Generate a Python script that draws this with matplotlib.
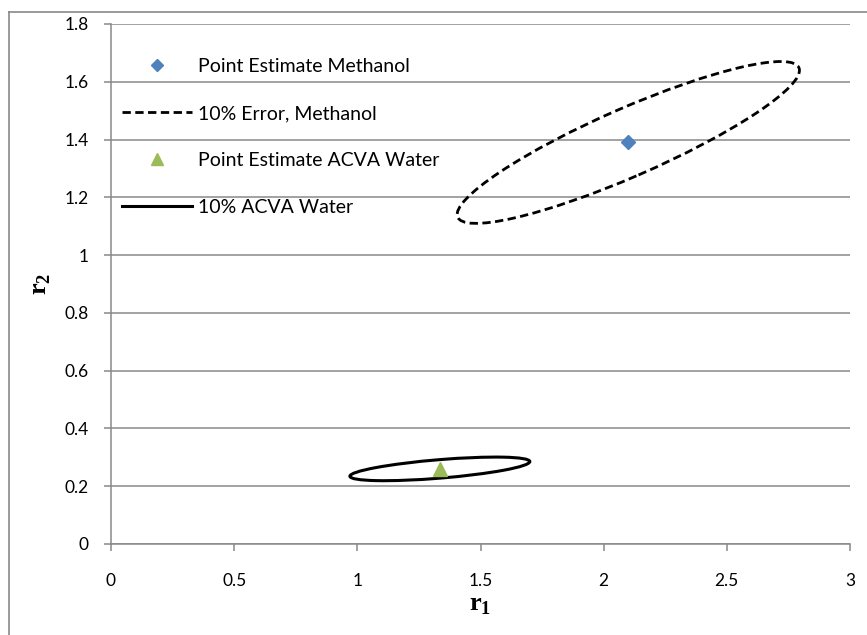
import matplotlib
matplotlib.use("Agg")
import matplotlib.pyplot as plt
from matplotlib.patches import Ellipse
from matplotlib.lines import Line2D

plt.rcParams['font.family'] = ['Lato', 'DejaVu Sans']
plt.rcParams['mathtext.fontset'] = 'custom'
plt.rcParams['mathtext.rm'] = 'Liberation Serif:bold'

# point estimates (r1, r2)
meoh_point = (2.10, 1.392)
water_point = (1.335, 0.258)

# 10% error regions:
# centre, full width, full height, tilt (deg) in data units
meoh_center = (2.10, 1.39)
meoh_width, meoh_height, meoh_angle = 1.479, 0.240, 20.3
water_center = (1.335, 0.260)
water_width, water_height, water_angle = 0.732, 0.064, 4.0

labels = ["Point Estimate Methanol", "10% Error, Methanol",
          "Point Estimate ACVA Water", "10% ACVA Water"]
xticks = [0, 0.5, 1, 1.5, 2, 2.5, 3]
yticks = [0, 0.2, 0.4, 0.6, 0.8, 1, 1.2, 1.4, 1.6, 1.8]

blue = "#4F81BD"
green = "#9BBB59"
grey = "#898989"

fig = plt.figure(figsize=(8.67, 6.35), dpi=100)
ax = fig.add_axes([111 / 867, 1 - 544 / 635, (850 - 111) / 867, (544 - 24) / 635])

# outer chart border (only top and left visible)
fig.add_artist(Line2D([9 / 867, 9 / 867], [0, 1 - 12 / 635], color=grey, lw=1.2))
fig.add_artist(Line2D([9 / 867, 1], [1 - 12 / 635, 1 - 12 / 635], color=grey, lw=1.2))

ax.set_xlim(0, 3)
ax.set_ylim(0, 1.8)
ax.set_xticks(xticks)
ax.set_yticks(yticks)
ax.set_xticklabels([f"{t:g}" for t in xticks])
ax.set_yticklabels([f"{t:g}" for t in yticks])
ax.yaxis.grid(True, color=grey, lw=1.1)
ax.set_axisbelow(True)
for s in ["top", "right"]:
    ax.spines[s].set_visible(False)
for s in ["left", "bottom"]:
    ax.spines[s].set_color(grey)
    ax.spines[s].set_linewidth(1.1)
ax.tick_params(axis="both", direction="out", length=5, width=1.1, color=grey,
               labelsize=12.5)
ax.tick_params(axis="y", pad=11)
ax.tick_params(axis="x", pad=16)

ax.add_patch(Ellipse(meoh_center, meoh_width, meoh_height, angle=meoh_angle,
                     fill=False, ec="black", lw=2.0, ls=(0, (3, 1.6)), zorder=3))
ax.add_patch(Ellipse(water_center, water_width, water_height, angle=water_angle,
                     fill=False, ec="black", lw=2.2, zorder=3))
ax.plot([meoh_point[0]], [meoh_point[1]], ls="none", marker="D", ms=7,
        color=blue, zorder=4)
ax.plot([water_point[0]], [water_point[1]], ls="none", marker="^", ms=10,
        color=green, zorder=4)

handles = [
    Line2D([], [], ls="none", marker="D", ms=6.5, color=blue),
    Line2D([], [], color="black", lw=2.0, ls=(0, (3, 1.6))),
    Line2D([], [], ls="none", marker="^", ms=9, color=green),
    Line2D([], [], color="black", lw=2.2),
]
ax.legend(handles, labels, loc="upper left", bbox_to_anchor=(0.005, 0.95),
          frameon=False, fontsize=14, handlelength=3.6, handletextpad=0.3,
          labelspacing=1.55, borderaxespad=0)

ax.set_xlabel(r"$\mathrm{r}_\mathrm{1}$", fontsize=19, labelpad=2)
ax.set_ylabel(r"$\mathrm{r}_\mathrm{2}$", fontsize=19, labelpad=8)

fig.savefig("out.png", dpi=100)
